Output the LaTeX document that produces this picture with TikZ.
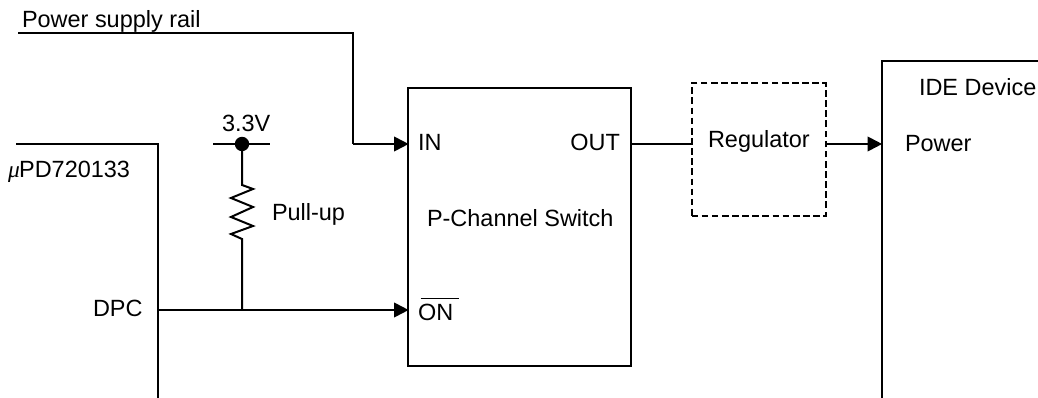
\documentclass[tikz,border=0pt]{standalone}
\usepackage{fontspec}
\setmainfont{Liberation Sans}
\newfontfamily\muserif[Ligatures=TeX]{Liberation Serif}
\usetikzlibrary{arrows.meta,positioning}
\tikzset{
  x=0.75pt,y=-0.75pt,
  wire/.style={line width=1.5pt,line join=miter},
  sig/.style={wire,-{Triangle[length=11pt,width=11pt]},shorten >=-0.5pt},
  lab/.style={inner sep=0pt,outer sep=0pt,anchor=base west,font=\fontsize{17.6pt}{20pt}\selectfont},
  blockbox/.style={draw,line width=1.5pt,inner sep=0pt,outer sep=0pt,anchor=north west},
}
\begin{document}
\begin{tikzpicture}
\useasboundingbox (0,0) rectangle (1038,398);
% blocks
\node[blockbox,minimum width=167.25pt,minimum height=208.5pt] (switch) at (408,88) {};
\node[blockbox,dash pattern=on 5pt off 2.6pt,minimum width=100.5pt,minimum height=99.75pt] (reg) at (691.5,83) {};
% free end points and ports
\coordinate (railstart) at (18,33);
\coordinate (railcorner) at (353,33);
\coordinate (railbend) at (353,144);
\coordinate (in) at (408,144);
\coordinate (on) at (408,310);
\coordinate (out) at (631,144);
\coordinate (regin) at (691.5,144);
\coordinate (regout) at (825.5,144);
\coordinate (idepower) at (881.5,144);
\coordinate (dpc) at (158,310);
\coordinate (junction) at (242,310);
\coordinate (vcc) at (242,144);
\coordinate (vccl) at (213,144);
\coordinate (vccr) at (270,144);
% chip outlines
\draw[wire] (16,144) -- (158,144) -- (158,398);
\draw[wire] (1038,61) -- (881.5,61) -- (881.5,398);
% connectors
\draw[wire] (railstart) -- (railcorner) -- (railbend);
\draw[sig] (railbend) -- (in);
\draw[sig] (dpc) -- (on);
\draw[wire] (out) -- (regin);
\draw[sig] (regout) -- (idepower);
\draw[wire] (vccl) -- (vccr);
\draw[wire] (vcc) -- (242,185) -- (253,189) -- (231,198) -- (253,207) -- (231,217) -- (253,226) -- (231,234) -- (242,239) -- (junction);
\fill (vcc) circle (5.4pt);
% labels
\node[lab] (t1) at (22,28) {Power supply rail};
\node[lab] (t2) at (222,132) {3.3V};
\node[lab] (t3) at (8,178) {{\muserif\itshape μ}\hspace{-0.5pt}PD720133};
\node[lab] (t4) at (272,220.5) {Pull-up};
\node[lab] (t5) at (93,317) {DPC};
\node[lab] (t6) at (418,151) {IN};
\node[lab,anchor=base east] (t7) at (620,151) {OUT};
\node[lab] (t8) at (427,227) {P-Channel Switch};
\node[lab] (t9) at (418,321) {ON};
\draw[line width=1pt] ([xshift=2pt,yshift=17pt]t9.base west) -- ([xshift=4pt,yshift=17pt]t9.base east);
\node[lab] (t10) at (708,148) {Regulator};
\node[lab] (t11) at (905,151.5) {Power};
\node[lab] (t12) at (919,96) {IDE Device};
\end{tikzpicture}
\end{document}
